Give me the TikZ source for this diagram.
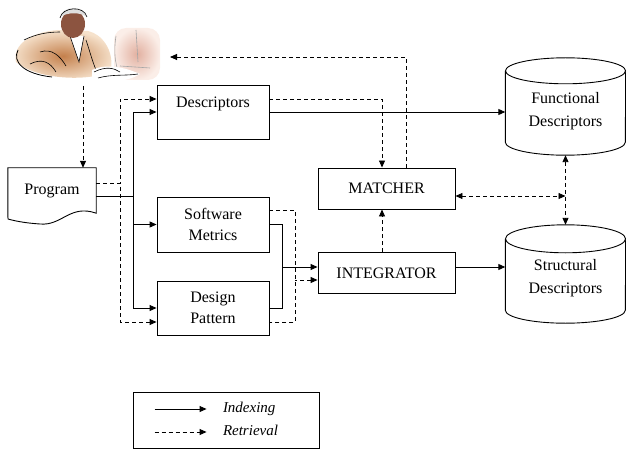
\documentclass[tikz,border=0pt]{standalone}
\usepackage{fontspec}
\setmainfont{Liberation Serif}
\usetikzlibrary{arrows.meta,calc}

\definecolor{suit}{RGB}{196,128,76}
\definecolor{suitlight}{RGB}{246,226,204}
\definecolor{face}{RGB}{140,84,64}
\definecolor{screen}{RGB}{226,176,160}
\definecolor{screenlight}{RGB}{251,238,232}

\begin{document}
\begin{tikzpicture}[x=1pt,y=-1pt,
  >={Triangle[length=7pt,width=6pt]},
  lbl/.style={font=\fontsize{16}{21}\selectfont, align=center},
  box/.style={lbl, draw, line width=0.9pt, minimum width=112pt, inner sep=0pt},
  wbox/.style={lbl, draw, line width=0.9pt, minimum width=137pt, minimum height=41pt, inner sep=0pt},
  cyltext/.style={font=\fontsize{16}{23}\selectfont, align=center, minimum width=120pt, inner sep=0pt},
  plain/.style={draw, line width=0.9pt},
  dplain/.style={plain, dash pattern=on 4pt off 3pt},
  idx/.style={plain, ->},
  ret/.style={dplain, ->},
  legtext/.style={font=\fontsize{15}{18}\selectfont\itshape, inner sep=0pt, anchor=west}
]
\useasboundingbox (0,0) rectangle (626,449);

% ---- user at the workstation ----
\shade[inner color=suit, outer color=suitlight]
  (16,62) .. controls (12,44) and (32,32) .. (58,30) -- (88,31)
  .. controls (102,34) and (114,50) .. (111,70)
  .. controls (98,81) and (40,82) .. (16,62) -- cycle;
\draw[line width=0.8pt] (18,50) .. controls (12,62) and (24,74) .. (52,77);
\draw[line width=0.6pt] (24,40) .. controls (36,34) and (48,32) .. (60,32);
\draw[line width=0.6pt] (40,52) .. controls (52,48) and (60,56) .. (66,66);
\draw[line width=0.6pt] (30,64) .. controls (42,58) and (50,62) .. (56,72);
\draw[line width=0.6pt] (86,40) .. controls (90,52) and (92,60) .. (96,70);
\fill[white] (70,36) -- (84,36) -- (79,62) -- cycle;
\draw[line width=0.6pt] (70,36) -- (79,62) -- (84,36);
\fill[face] (73,24) ellipse[x radius=12pt, y radius=14pt];
\fill[gray!25] (60,17) .. controls (62,6) and (84,4) .. (87,17)
  .. controls (80,12) and (68,12) .. (60,17) -- cycle;
\draw[line width=0.6pt] (60,18) .. controls (62,7) and (84,5) .. (87,17);
\shade[inner color=screen, outer color=screenlight, rounded corners=12pt]
  (114,28) rectangle (160,80);
\draw[gray!70, line width=0.6pt] (116,36) .. controls (113,55) and (116,70) .. (122,78);
\draw[gray!70, line width=0.6pt] (136,30) -- (138,62);
\draw[gray!70, line width=0.6pt] (120,66) -- (150,68);
\fill[white] (92,70) .. controls (104,64) and (122,66) .. (140,74)
  .. controls (128,82) and (104,84) .. (92,78) -- cycle;
\draw[line width=0.6pt] (94,72) .. controls (106,66) and (114,68) .. (120,72);
\draw[line width=0.6pt] (98,78) .. controls (112,74) and (126,76) .. (138,74);
\coordinate (user) at (83,86);
\coordinate (screenfront) at (170,57);

% ---- boxes ----
\node[lbl, minimum width=88pt, minimum height=45pt, inner sep=0pt] (prog) at (52,190.5) {Program};
\draw[line width=0.9pt] (prog.south west) -- (prog.north west) -- (prog.north east) -- (prog.south east)
  .. controls (70,204) and (62,226) .. (40,224)
  .. controls (25,223) and (15,221) .. (8,219) -- cycle;

\node[box, text height=23pt, text depth=31pt] (desc) at (213,112) {Descriptors};
\node[box, minimum height=55pt] (sm) at (213,224.5) {Software\\Metrics};
\node[box, minimum height=54pt] (dp) at (213,308) {Design\\Pattern};
\node[wbox] (match) at (386.5,188.5) {MATCHER};
\node[wbox] (integ) at (386.5,273) {INTEGRATOR};

% ---- repositories ----
\node[cyltext, minimum height=87pt] (fd) at (565.5,111.5) {Functional\\Descriptors};
\draw[line width=0.9pt] ([yshift=-3pt]fd.north west) -- ([yshift=13pt]fd.south west)
  arc[start angle=180, end angle=360, x radius=60pt, y radius=13pt]
  -- ([yshift=-3pt]fd.north east);
\draw[line width=0.9pt] ([yshift=-3pt]fd.north) ellipse[x radius=60pt, y radius=13pt];

\node[cyltext, minimum height=89pt] (sd) at (565.5,278.5) {Structural\\Descriptors};
\draw[line width=0.9pt] ([yshift=-5pt]sd.north west) -- ([yshift=13pt]sd.south west)
  arc[start angle=180, end angle=360, x radius=60pt, y radius=13pt]
  -- ([yshift=-5pt]sd.north east);
\draw[line width=0.9pt] ([yshift=-5pt]sd.north) ellipse[x radius=60pt, y radius=14pt];

% ---- connectors ----
\draw[ret] (user) -- (user |- prog.north);

\draw[ret] ([yshift=7.5pt]prog.east) -- ++(24,0) |- ([yshift=13pt]desc.west);
\draw[ret] ([yshift=7.5pt]prog.east) -- ++(24,0) |- ([yshift=-14pt]dp.west);
\draw[idx] ([yshift=-5.5pt]prog.east) -- ++(37,0) |- (desc.west);
\draw[idx] ([yshift=-5.5pt]prog.east) -- ++(37,0) |- (sm.west);
\draw[idx] ([yshift=-5.5pt]prog.east) -- ++(37,0) |- (dp.west);

\draw[ret] ([yshift=13pt]desc.east) -| ([xshift=-4.5pt]match.north);
\draw[idx] (desc.east) -- (desc.east -| fd.west);

\draw[dplain] ([yshift=14.5pt]sm.east) -- ++(26,0) |- ([yshift=-14pt]dp.east);
\draw[plain] (sm.east) -- ++(13,0) |- (dp.east);
\draw[plain, <-] ([yshift=6pt]integ.west) -- ++(-36,0);
\draw[dplain, <-] ([yshift=-7pt]integ.west) -- ++(-23,0);

\draw[ret] ([xshift=-4.5pt]integ.north) -- ([xshift=-4.5pt]match.south);
\draw[ret] ([xshift=19.5pt]match.north) |- (screenfront);
\draw[idx] ([yshift=6pt]integ.east) -- ([yshift=6pt]integ.east -| sd.west);

\draw[dplain, <->] ([yshift=-7.5pt]match.east) -- ([yshift=-7.5pt]match.east -| fd.south);
\draw[dplain, <->] (fd.south) -- ([yshift=9pt]sd.north);

% ---- legend ----
\node[draw, line width=0.9pt, minimum width=186pt, minimum height=56pt, inner sep=0pt] (legend) at (226,420) {};
\draw[idx] ([xshift=22pt,yshift=11pt]legend.west) -- ++(52,0)
  node[legtext, xshift=16pt] {Indexing};
\draw[ret] ([xshift=22pt,yshift=-12pt]legend.west) -- ++(52,0)
  node[legtext, xshift=16pt, yshift=2pt] {Retrieval};
\end{tikzpicture}
\end{document}
